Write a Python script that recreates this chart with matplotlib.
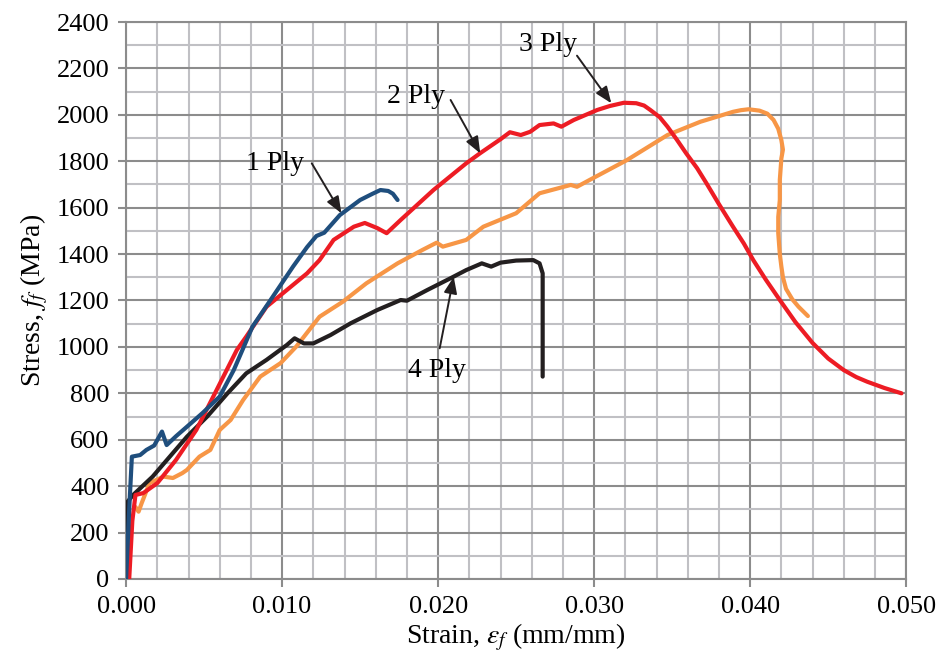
import numpy as np
import matplotlib.pyplot as plt
from matplotlib.ticker import MultipleLocator

plt.rcParams['font.family'] = ['Liberation Serif', 'DejaVu Serif']
plt.rcParams['mathtext.fontset'] = 'stix'

# strain (mm/mm), stress (MPa)
ply1_x = [0.0, 0.0002, 0.00037, 0.0009, 0.0013, 0.0018, 0.0023, 0.0026, 0.0032, 0.0039,
          0.0049, 0.006, 0.0069, 0.0081, 0.0094, 0.0107, 0.0116, 0.0122, 0.0127, 0.0137,
          0.015, 0.0158, 0.0163, 0.0168, 0.0171, 0.0174]
ply1_y = [0, 300, 527, 534, 556, 575, 635, 577, 615, 656,
          715, 786, 900, 1087, 1216, 1346, 1430, 1478, 1492, 1568,
          1633, 1660, 1676, 1672, 1660, 1633]

ply2_x = [0.0002, 0.0004, 0.0006, 0.0011, 0.002, 0.0032, 0.0045, 0.0058, 0.0071, 0.0077,
          0.009, 0.0103, 0.0116, 0.0124, 0.0133, 0.0146, 0.0153, 0.0161, 0.0167, 0.0176,
          0.0197, 0.0218, 0.0227, 0.024, 0.0246, 0.0253, 0.0259, 0.0265, 0.0274, 0.0279,
          0.0287, 0.0302, 0.031, 0.0319, 0.0327, 0.0332, 0.0336, 0.0342, 0.0347, 0.0353,
          0.0359, 0.0366, 0.0372, 0.038, 0.0389, 0.0396, 0.0402, 0.041, 0.0419, 0.0429,
          0.044, 0.045, 0.046, 0.0468, 0.0475, 0.0486, 0.0497]
ply2_y = [0, 250, 362, 370, 413, 513, 642, 814, 987, 1044,
          1173, 1245, 1317, 1374, 1461, 1518, 1534, 1512, 1490, 1547,
          1676, 1791, 1835, 1895, 1925, 1913, 1927, 1956, 1963, 1949,
          1978, 2021, 2038, 2052, 2050, 2040, 2021, 1990, 1949, 1893,
          1834, 1770, 1705, 1615, 1518, 1445, 1374, 1290, 1202, 1107,
          1017, 950, 900, 870, 850, 823, 800]

ply3_x = [0.0006, 0.0008, 0.001, 0.0015, 0.0024, 0.003, 0.0036, 0.0039, 0.0047, 0.0054,
          0.006, 0.0067, 0.0075, 0.0086, 0.0099, 0.0109, 0.0124, 0.0139, 0.0154, 0.0174,
          0.019, 0.0199, 0.0203, 0.0218, 0.0229, 0.025, 0.0265, 0.0285, 0.0289, 0.0297,
          0.0321, 0.0347, 0.0368, 0.0389, 0.0394, 0.0399, 0.0406, 0.0411, 0.0415, 0.0418,
          0.042, 0.0421, 0.042, 0.0419, 0.0419, 0.0418, 0.0418, 0.0419, 0.042, 0.0421,
          0.0423, 0.0427, 0.0431, 0.0437]
ply3_y = [310, 290, 327, 413, 441, 435, 456, 470, 527, 556,
          642, 685, 771, 872, 930, 1001, 1130, 1195, 1274, 1360,
          1418, 1449, 1432, 1461, 1518, 1576, 1662, 1698, 1690, 1719,
          1805, 1913, 1970, 2013, 2020, 2024, 2018, 2005, 1978, 1940,
          1891, 1850, 1812, 1720, 1633, 1560, 1490, 1400, 1346, 1300,
          1250, 1205, 1173, 1133]

ply4_x = [0.0, 0.0001, 0.00045, 0.0017, 0.0028, 0.0039, 0.0052, 0.0065, 0.0077, 0.009,
          0.0103, 0.0108, 0.0114, 0.012, 0.0131, 0.0144, 0.0161, 0.0176, 0.018, 0.0193,
          0.0208, 0.0218, 0.0228, 0.0234, 0.024, 0.025, 0.0261, 0.0265, 0.0267, 0.0267]
ply4_y = [0, 333, 362, 441, 527, 613, 700, 800, 886, 944,
          1008, 1037, 1015, 1015, 1051, 1102, 1159, 1202, 1199, 1245,
          1296, 1331, 1360, 1346, 1363, 1372, 1374, 1360, 1317, 872]

labels = ["1 Ply", "2 Ply", "3 Ply", "4 Ply"]
text_pos = [(0.00955, 1792), (0.0186, 2081), (0.02705, 2305), (0.0199, 900)]
arrow_tail = [(0.0119, 1791), (0.0208, 2064), (0.0289, 2255), (0.0201, 994)]
arrow_head = [(0.0138, 1576), (0.0227, 1834), (0.0311, 2050), (0.021, 1302)]

fig = plt.figure(figsize=(9.41, 6.67), dpi=100)
ax = fig.add_axes([0.134, 0.132, 0.829, 0.835])

lw = 3.0
ax.plot(ply3_x, ply3_y, color="#F79646", lw=lw, solid_capstyle="round", solid_joinstyle="round", zorder=3)
ax.plot(ply4_x, ply4_y, color="#231F20", lw=lw, solid_capstyle="round", solid_joinstyle="round", zorder=4)
ax.plot(ply2_x, ply2_y, color="#ED1C24", lw=lw, solid_capstyle="round", solid_joinstyle="round", zorder=5)
ax.plot(ply1_x, ply1_y, color="#1F4E7D", lw=lw, solid_capstyle="round", solid_joinstyle="round", zorder=6)

for lab, tp, tail, head in zip(labels, text_pos, arrow_tail, arrow_head):
    ax.text(tp[0], tp[1], lab, ha="center", va="center", fontsize=20, zorder=7)
    ax.annotate("", xy=head, xytext=tail,
                arrowprops=dict(arrowstyle="-|>,head_length=1.0,head_width=0.4",
                                color="#231F20", lw=1.4, shrinkA=0, shrinkB=0),
                zorder=7)

ax.set_xlim(0, 0.050)
ax.set_ylim(0, 2400)
ax.xaxis.set_major_locator(MultipleLocator(0.010))
ax.xaxis.set_minor_locator(MultipleLocator(0.002))
ax.yaxis.set_major_locator(MultipleLocator(200))
ax.yaxis.set_minor_locator(MultipleLocator(100))
ax.xaxis.set_major_formatter(plt.FuncFormatter(lambda v, p: f"{v:.3f}"))

ax.grid(which="major", color="#8C8C8C", lw=1.5)
ax.grid(which="minor", color="#C0C0C4", lw=1.5)
ax.set_axisbelow(True)
for s in ax.spines.values():
    s.set_color("#8C8C8C")
    s.set_linewidth(1.5)
ax.tick_params(which="major", direction="out", length=6, width=1.5, color="#8C8C8C",
               labelsize=19, pad=6)
ax.tick_params(which="minor", length=0)

ax.set_xlabel(r"Strain, $\varepsilon_f$ (mm/mm)", fontsize=20, labelpad=3)
ax.set_ylabel(r"Stress, $f_f$ (MPa)", fontsize=20, labelpad=5)

plt.savefig("out.png", dpi=100)
